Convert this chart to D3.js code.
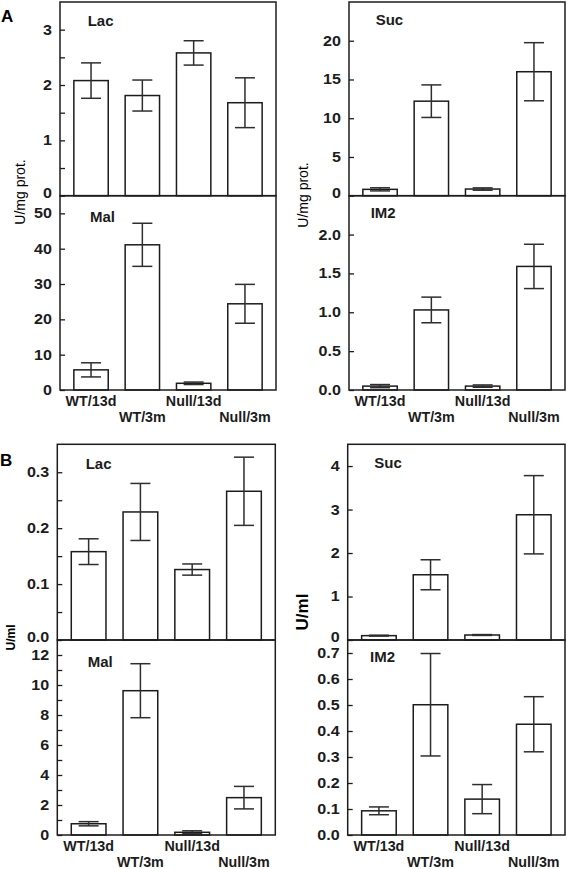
<!DOCTYPE html>
<html><head><meta charset="utf-8">
<script src="https://cdn.jsdelivr.net/npm/d3@7"></script>
<style>body{margin:0;background:#fff}svg{display:block}</style>
</head><body><svg id="c" width="567" height="869"></svg>
<script>
// ---------- data ----------
const categories = ["WT/13d", "WT/3m", "Null/13d", "Null/3m"];

// Block A (U/mg prot.)
const lacA = [2.08, 1.81, 2.58, 1.68];
const lacAErr = [0.32, 0.28, 0.22, 0.45];
const malA = [5.7, 41.1, 1.9, 24.4];
const malAErr = [2.0, 6.1, 0.35, 5.5];
const sucA = [0.82, 12.2, 0.86, 16.0];
const sucAErr = [0.2, 2.1, 0.15, 3.75];
const im2A = [0.05, 1.03, 0.05, 1.59];
const im2AErr = [0.02, 0.165, 0.015, 0.285];

// Block B (U/ml)
const lacB = [0.158, 0.229, 0.126, 0.266];
const lacBErr = [0.023, 0.051, 0.010, 0.061];
const malB = [0.75, 9.62, 0.18, 2.49];
const malBErr = [0.14, 1.8, 0.1, 0.75];
const sucB = [0.10, 1.50, 0.115, 2.88];
const sucBErr = [0.01, 0.345, 0.01, 0.9];
const im2B = [0.093, 0.501, 0.138, 0.426];
const im2BErr = [0.015, 0.197, 0.056, 0.106];

// tick labels
const ticksLacA = [0, 1, 2, 3], minorLacA = [0.5, 1.5, 2.5];
const ticksMalA = [0, 10, 20, 30, 40, 50];
const ticksSucA = [0, 5, 10, 15, 20];
const ticksIm2A = [0, 0.5, 1.0, 1.5, 2.0];
const ticksLacB = [0, 0.1, 0.2, 0.3], minorLacB = [0.05, 0.15, 0.25];
const ticksMalB = [0, 2, 4, 6, 8, 10, 12], minorMalB = [1, 3, 5, 7, 9, 11];
const ticksSucB = [0, 1, 2, 3, 4];
const ticksIm2B = [0, 0.1, 0.2, 0.3, 0.4, 0.5, 0.6, 0.7];

// ---------- layout ----------
const blocks = {
  A: {top: 2, split: 195.7, bottom: 390, label: "A", labelX: 1, labelY: 22},
  B: {top: 444.3, split: 640, bottom: 835, label: "B", labelX: 0, labelY: 465.5}
};
const columns = {
  AL: [60, 276], AR: [349, 565], BL: [57.3, 275.3], BR: [347.7, 565]
};

const panels = [
  {col: "AL", block: "A", part: "top", name: "Lac", v: lacA, e: lacAErr, dom: [0, 3.5], ticks: ticksLacA, minor: minorLacA, fmt: d3.format("d"), tdx: 27.7, tdy: 24},
  {col: "AL", block: "A", part: "bot", name: "Mal", v: malA, e: malAErr, dom: [0, 55], ticks: ticksMalA, minor: [], fmt: d3.format("d"), tdx: 30, tdy: 26.6},
  {col: "AR", block: "A", part: "top", name: "Suc", v: sucA, e: sucAErr, dom: [0, 25], ticks: ticksSucA, minor: [], fmt: d3.format("d"), tdx: 26.7, tdy: 23},
  {col: "AR", block: "A", part: "bot", name: "IM2", v: im2A, e: im2AErr, dom: [0, 2.5], ticks: ticksIm2A, minor: [], fmt: d3.format(".1f"), tdx: 21.7, tdy: 22.6},
  {col: "BL", block: "B", part: "top", name: "Lac", v: lacB, e: lacBErr, dom: [0, 0.35], ticks: ticksLacB, minor: minorLacB, fmt: d3.format(".1f"), tdx: 28.4, tdy: 25},
  {col: "BL", block: "B", part: "bot", name: "Mal", v: malB, e: malBErr, dom: [0, 13], ticks: ticksMalB, minor: minorMalB, fmt: d3.format("d"), tdx: 30.4, tdy: 26.7},
  {col: "BR", block: "B", part: "top", name: "Suc", v: sucB, e: sucBErr, dom: [0, 4.5], ticks: ticksSucB, minor: [], fmt: d3.format("d"), tdx: 26.6, tdy: 24},
  {col: "BR", block: "B", part: "bot", name: "IM2", v: im2B, e: im2BErr, dom: [0, 0.75], ticks: ticksIm2B, minor: [], fmt: d3.format(".1f"), tdx: 22.3, tdy: 22.3}
];

const yTitles = [
  {text: "U/mg prot.", x: 25, y: 192, size: 14, weight: "normal"},
  {text: "U/mg prot.", x: 308, y: 195, size: 14, weight: "normal"},
  {text: "U/ml", x: 15, y: 637.5, size: 12, weight: "bold"},
  {text: "U/ml", x: 308, y: 612, size: 17, weight: "bold"}
];

const INK = "#1c1c1c";
const ERR = "#2e2e2e";
const FONT = "'Liberation Sans', Arial, Helvetica, sans-serif";
const TICK_SCALE = 1.15;

const svg = d3.select("#c");
svg.append("rect").attr("width", 567).attr("height", 869).attr("fill", "#fff");

panels.forEach(p => {
  const b = blocks[p.block];
  const [x0, x1] = columns[p.col];
  const yTop = p.part === "top" ? b.top : b.split;
  const yBot = p.part === "top" ? b.split : b.bottom;

  const x = d3.scaleBand().domain(categories).range([x0, x1]).paddingInner(0.33).paddingOuter(0.27);
  const y = d3.scaleLinear().domain(p.dom).range([yBot, yTop]);
  const g = svg.append("g");

  // bars
  g.selectAll("rect.bar").data(categories).join("rect")
    .attr("class", "bar")
    .attr("x", d => x(d))
    .attr("width", x.bandwidth())
    .attr("y", (d, i) => y(p.v[i]))
    .attr("height", (d, i) => y(0) - y(p.v[i]))
    .attr("fill", "#fff").attr("stroke", INK).attr("stroke-width", 1.5);

  // error bars
  const eb = g.selectAll("g.err").data(categories).join("g").attr("class", "err")
    .attr("stroke", ERR).attr("stroke-width", 1.5);
  const cx = d => x(d) + x.bandwidth() / 2;
  eb.append("line").attr("x1", cx).attr("x2", cx)
    .attr("y1", (d, i) => y(p.v[i] + p.e[i])).attr("y2", (d, i) => y(p.v[i] - p.e[i]));
  eb.append("line").attr("x1", d => cx(d) - 10).attr("x2", d => cx(d) + 10)
    .attr("y1", (d, i) => y(p.v[i] + p.e[i])).attr("y2", (d, i) => y(p.v[i] + p.e[i]));
  eb.append("line").attr("x1", d => cx(d) - 10).attr("x2", d => cx(d) + 10)
    .attr("y1", (d, i) => y(p.v[i] - p.e[i])).attr("y2", (d, i) => y(p.v[i] - p.e[i]));

  // axis (ticks pointing inward)
  const ax = g.append("g").attr("transform", `translate(${x0},0)`)
    .call(d3.axisLeft(y).tickValues(p.ticks).tickFormat(p.fmt).tickSizeInner(-5).tickSizeOuter(0).tickPadding(7));
  ax.select(".domain").remove();
  ax.selectAll("line").attr("stroke", INK).attr("stroke-width", 1.3);
  ax.selectAll("text").attr("font-family", FONT).attr("font-weight", "bold").attr("font-size", 14).attr("fill", INK)
    .attr("transform", `scale(${TICK_SCALE},1)`);
  if (p.part === "top") {
    ax.selectAll(".tick").filter(d => d === 0).select("text").attr("dy", "0.1em");
  }

  if (p.minor.length) {
    const mx = g.append("g").attr("transform", `translate(${x0},0)`)
      .call(d3.axisLeft(y).tickValues(p.minor).tickFormat("").tickSizeInner(-5).tickSizeOuter(0));
    mx.select(".domain").remove();
    mx.selectAll("line").attr("stroke", INK).attr("stroke-width", 1.3);
  }

  // frame
  g.append("rect").attr("x", x0).attr("y", yTop).attr("width", x1 - x0).attr("height", yBot - yTop)
    .attr("fill", "none").attr("stroke", INK).attr("stroke-width", 1.5);

  // panel title
  g.append("text").attr("x", x0 + p.tdx).attr("y", yTop + p.tdy)
    .attr("font-family", FONT).attr("font-weight", "bold").attr("font-size", 15).attr("fill", INK)
    .text(p.name);

  // category labels under the bottom panels
  if (p.part === "bot") {
    g.selectAll("text.cat").data(categories).join("text").attr("class", "cat")
      .attr("x", d => cx(d))
      .attr("y", (d, i) => yBot + (i % 2 === 0 ? 16.3 : 31.8))
      .attr("text-anchor", "middle")
      .attr("font-family", FONT).attr("font-weight", "bold").attr("font-size", 14.3).attr("fill", INK)
      .text(d => d);
  }
});

// block letters
Object.values(blocks).forEach(b => {
  svg.append("text").attr("x", b.labelX).attr("y", b.labelY)
    .attr("font-family", FONT).attr("font-weight", "bold").attr("font-size", 17).attr("fill", "#000")
    .text(b.label);
});

// y-axis titles
yTitles.forEach(t => {
  svg.append("text").attr("transform", `translate(${t.x},${t.y}) rotate(-90)`)
    .attr("text-anchor", "middle")
    .attr("font-family", FONT).attr("font-weight", t.weight).attr("font-size", t.size).attr("fill", "#000")
    .text(t.text);
});
</script>
</body></html>
